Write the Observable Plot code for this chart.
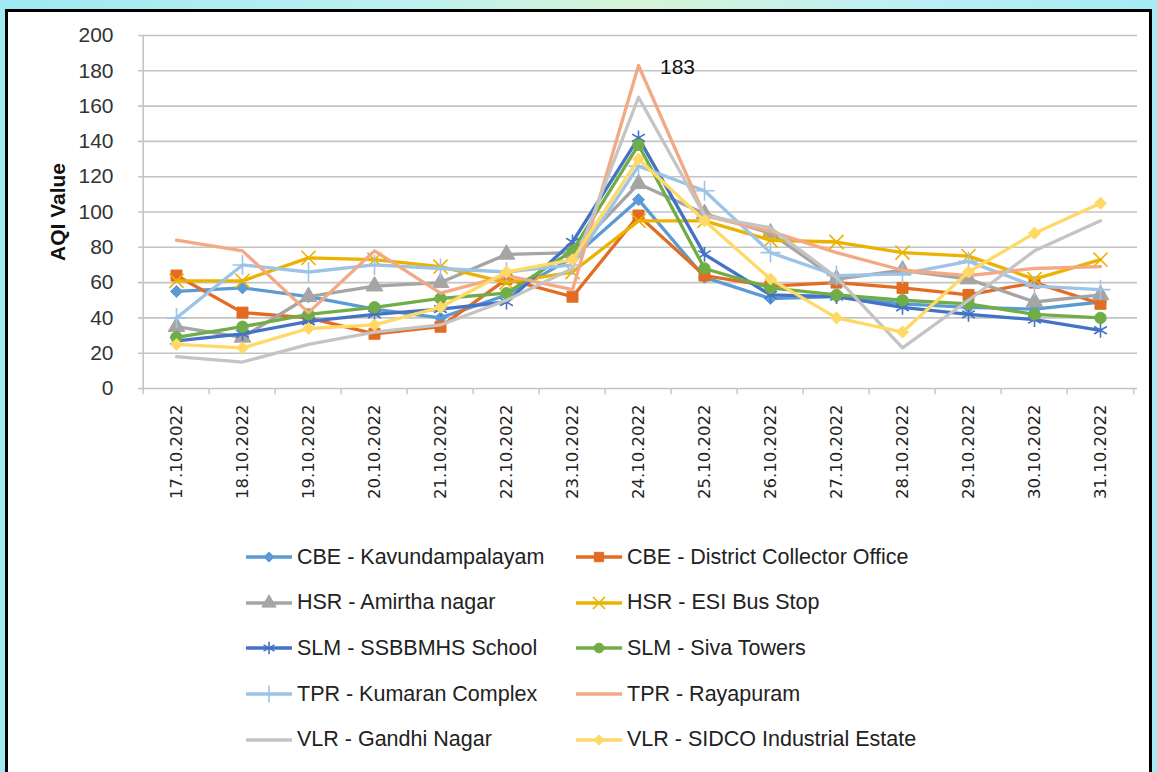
<!DOCTYPE html>
<html><head><meta charset="utf-8">
<script src="https://cdn.jsdelivr.net/npm/d3@7"></script>
<script src="https://cdn.jsdelivr.net/npm/@observablehq/plot@0.6"></script>
<style>
html,body{margin:0;padding:0;}
body{width:1157px;height:772px;overflow:hidden;position:relative;
 background:linear-gradient(90deg,#9fe9f2 0%,#bdf0f0 35%,#d6f5d6 55%,#c0eff2 75%,#a5ecf4 100%);}
#frame{position:absolute;left:5px;top:9px;width:1141px;height:770px;background:#fff;border:3px solid #000;border-bottom:none;}
#chart{position:absolute;left:0;top:0;}
#legend{position:absolute;left:0;top:520px;width:1157px;height:252px;}
.item{position:absolute;display:flex;align-items:center;height:30px;font-family:"Liberation Sans Narrow","Liberation Sans",sans-serif;font-size:21.5px;color:#222;white-space:nowrap;}
.item svg{margin-right:4px;}
</style></head><body>
<div id="frame"></div><div id="chart"></div><div id="legend"></div>
<script>
const dates = ["17.10.2022","18.10.2022","19.10.2022","20.10.2022","21.10.2022","22.10.2022","23.10.2022","24.10.2022","25.10.2022","26.10.2022","27.10.2022","28.10.2022","29.10.2022","30.10.2022","31.10.2022"];
const stations = ["CBE - Kavundampalayam","CBE - District Collector Office","HSR - Amirtha nagar","HSR - ESI Bus Stop","SLM - SSBBMHS School","SLM - Siva Towers","TPR - Kumaran Complex","TPR - Rayapuram","VLR - Gandhi Nagar","VLR - SIDCO Industrial Estate"];
const kavundampalayam = [55, 57, 52, 45, 40, 53, 74, 107, 63, 51, 52, 48, 46, 45, 49];
const collectorOffice = [64, 43, 40, 31, 35, 62, 52, 98, 64, 58, 60, 57, 53, 60, 48];
const amirthaNagar    = [35, 29, 52, 58, 60, 76, 77, 116, 99, 88, 62, 67, 62, 49, 53];
const esiBusStop      = [61, 61, 74, 73, 69, 60, 66, 95, 95, 84, 83, 77, 75, 62, 73];
const ssbbmhsSchool   = [27, 31, 38, 42, 45, 49, 83, 142, 76, 53, 52, 46, 42, 39, 33];
const sivaTowers      = [29, 35, 42, 46, 51, 54, 78, 138, 68, 57, 53, 50, 48, 42, 40];
const kumaranComplex  = [40, 70, 66, 70, 68, 66, 70, 126, 112, 77, 64, 65, 72, 58, 56];
const rayapuram       = [84, 78, 43, 78, 54, 64, 56, 183, 98, 89, 77, 67, 64, 68, 69];
const gandhiNagar     = [18, 15, 25, 32, 36, 50, 68, 165, 98, 91, 63, 23, 50, 78, 95];
const sidcoEstate     = [25, 23, 34, 36, 46, 66, 73, 130, 95, 62, 40, 32, 66, 88, 105];
const yTicks = [0, 20, 40, 60, 80, 100, 120, 140, 160, 180, 200];

const seriesValues = [kavundampalayam, collectorOffice, amirthaNagar, esiBusStop, ssbbmhsSchool, sivaTowers, kumaranComplex, rayapuram, gandhiNagar, sidcoEstate];
const styles = [
  {color:"#5B9BD5", symbol:"diamond2", filled:true, r:5.4},
  {color:"#E36C22", symbol:"square", filled:true, r:6.2},
  {color:"#A5A5A5", symbol:"triangle", filled:true, r:6.2},
  {color:"#EBB200", symbol:"times", filled:false, r:6.5},
  {color:"#4472C4", symbol:"asterisk", filled:false, r:7},
  {color:"#70AD47", symbol:"circle", filled:true, r:5.7},
  {color:"#9DC3E6", symbol:"plus", filled:false, r:6.5},
  {color:"#F3A983", symbol:null},
  {color:"#C4C4C4", symbol:null},
  {color:"#FFD966", symbol:"diamond2", filled:true, r:5.4}
];

const rows = stations.map((name, i) => dates.map((d, j) => ({station: name, date: d, value: seriesValues[i][j]})));

const W = 1157, H = 520, ML = 138, MR = 20, MT = 35, MB = 132;
const step = (W - ML - MR) / dates.length;
const grid = "#c4c4c4";
const numFont = "'Liberation Sans Narrow','Liberation Sans',sans-serif";

const marks = [
  Plot.ruleY(yTicks, {stroke: grid, strokeWidth: 1.6}),
  Plot.ruleX([dates[0]], {y1: 0, y2: 200, dx: -step/2, stroke: grid, strokeWidth: 1.6}),
  Plot.ruleX(dates, {y1: 0, y2: -3.5, dx: -step/2, stroke: grid, strokeWidth: 1.4}),
  Plot.ruleX([dates[dates.length-1]], {y1: 0, y2: -3.5, dx: step/2, stroke: grid, strokeWidth: 1.4}),
  Plot.axisY({ticks: yTicks, tickSize: 0, tickPadding: 25, fontSize: 21, fontFamily: numFont, fill: "#333", label: null}),
  Plot.axisX({tickRotate: -90, tickSize: 0, tickPadding: 16, fontSize: 16.5, fontFamily: "'DejaVu Sans',sans-serif", fill: "#222", label: null}),
  Plot.text(["AQI Value"], {frameAnchor: "left", textAnchor: "middle", rotate: -90, dx: -80, fontWeight: "bold", fontSize: 21, fontFamily: numFont, fill: "#111"})
];
rows.forEach((data, i) => {
  const s = styles[i];
  marks.push(Plot.line(data, {x: "date", y: "value", stroke: s.color, strokeWidth: 3.3, strokeLinejoin: "round", strokeLinecap: "round"}));
  if (s.symbol) {
    marks.push(Plot.dot(data, {x: "date", y: "value", symbol: () => s.symbol, r: s.r,
      fill: s.filled ? s.color : "none", stroke: s.color, strokeWidth: s.filled ? 1 : 1.6}));
  }
});
const peak = rows[7].reduce((a, b) => (b.value > a.value ? b : a));
marks.push(Plot.text([peak], {x: "date", y: "value", text: d => String(d.value), dx: 39, dy: 2, fontSize: 21, fontFamily: numFont, fill: "#111"}));

const chart = Plot.plot({
  width: W, height: H, marginLeft: ML, marginRight: MR, marginTop: MT, marginBottom: MB,
  style: {background: "transparent", overflow: "visible"},
  x: {type: "point", domain: dates, padding: 0.5},
  y: {domain: [0, 200]},
  symbol: {type: "identity"},
  marks
});
document.getElementById("chart").appendChild(chart);

// Legend
const legend = d3.select("#legend");
const colLeft = [245, 575];
const symMap = {diamond2: d3.symbolDiamond2, square: d3.symbolSquare, triangle: d3.symbolTriangle, times: d3.symbolTimes, asterisk: d3.symbolAsterisk, circle: d3.symbolCircle, plus: d3.symbolPlus};
stations.forEach((name, i) => {
  const s = styles[i];
  const row = Math.floor(i / 2), col = i % 2;
  const item = legend.append("div").attr("class", "item")
    .style("left", colLeft[col] + "px")
    .style("top", (37 + row * 45.7 - 15) + "px");
  const svg = item.append("svg").attr("width", 48).attr("height", 30);
  svg.append("line").attr("x1", 1).attr("x2", 47).attr("y1", 15).attr("y2", 15)
    .attr("stroke", s.color).attr("stroke-width", 3.3);
  if (s.symbol) {
    const rr = s.r * 0.85;
    svg.append("path").attr("transform", "translate(24,15)")
      .attr("d", d3.symbol(symMap[s.symbol], Math.PI * rr * rr)())
      .attr("fill", s.filled ? s.color : "none").attr("stroke", s.color).attr("stroke-width", s.filled ? 1 : 1.6);
  }
  item.append("span").text(name);
});
</script>
</body></html>
